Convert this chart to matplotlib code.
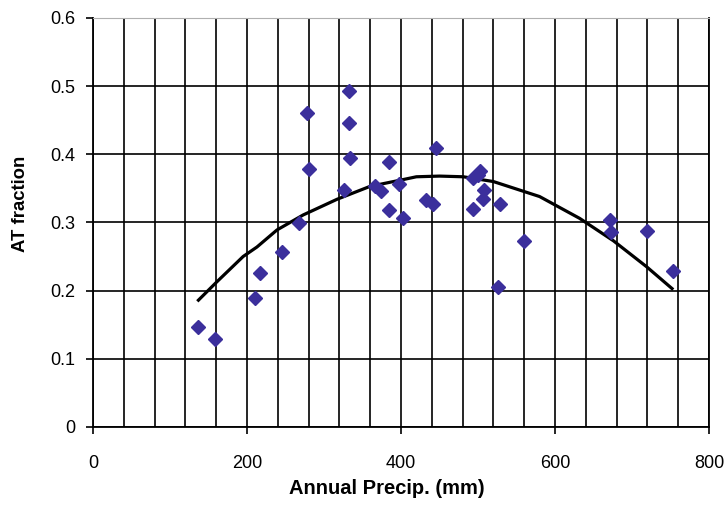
import numpy as np
import matplotlib
matplotlib.use("Agg")
import matplotlib.pyplot as plt
from matplotlib.ticker import MultipleLocator

plt.rcParams['font.family'] = ['Liberation Sans', 'DejaVu Sans']

# puntos medidos: precipitacion anual (mm) y fraccion AT
precip = [137, 158, 210, 217, 246, 268, 278, 280, 326, 332, 332, 334,
          366, 374, 384, 384, 398, 402, 433, 441, 446, 493, 493, 500,
          503, 506, 508, 526, 529, 560, 672, 673, 719, 753]
at_frac = [0.147, 0.129, 0.189, 0.226, 0.256, 0.299, 0.461, 0.379, 0.348,
           0.493, 0.446, 0.394, 0.353, 0.346, 0.388, 0.318, 0.356, 0.306,
           0.333, 0.327, 0.409, 0.365, 0.320, 0.370, 0.376, 0.334, 0.348,
           0.206, 0.327, 0.273, 0.304, 0.286, 0.288, 0.229]

# linea de tendencia
trend_x = [137, 161, 195, 213, 239, 273, 317, 360, 399, 420, 450, 481,
           520, 580, 632, 676, 719, 752]
trend_y = [0.186, 0.213, 0.250, 0.264, 0.289, 0.311, 0.334, 0.353, 0.362,
           0.367, 0.368, 0.367, 0.360, 0.338, 0.306, 0.273, 0.235, 0.203]

yticks = [0, 0.1, 0.2, 0.3, 0.4, 0.5, 0.6]
ytick_labels = ['0', '0.1', '0.2', '0.3', '0.4', '0.5', '0.6']

fig = plt.figure(figsize=(7.26, 5.05), dpi=100)
ax = fig.add_axes([0.128, 0.1545, 0.8486, 0.81])

ax.plot(trend_x, trend_y, color='black', lw=2.3, zorder=3)
ax.plot(precip, at_frac, 'D', color='#3b2f9c', markersize=7.5, zorder=4)

ax.set_xlim(0, 800)
ax.set_ylim(0, 0.6)
ax.xaxis.set_major_locator(MultipleLocator(200))
ax.xaxis.set_minor_locator(MultipleLocator(40))
ax.set_yticks(yticks)
ax.set_yticklabels(ytick_labels)

# rejilla negra estilo Excel
ax.grid(True, which='both', color='black', lw=1.2)
ax.set_axisbelow(True)
ax.tick_params(which='major', length=5, width=1.2, labelsize=13, color='black')
ax.tick_params(axis='x', which='major', pad=15)
ax.tick_params(axis='y', which='major', pad=7.5)
ax.tick_params(which='minor', length=0)
for s in ['left', 'bottom', 'right']:
    ax.spines[s].set_linewidth(1.3)
ax.spines['top'].set_color('#b0b0b0')

ax.set_xlabel('Annual Precip. (mm)', fontsize=14.5, fontweight='bold')
ax.xaxis.set_label_coords(0.477, -0.128)
ax.set_ylabel('AT fraction', fontsize=13.3, fontweight='bold')
ax.yaxis.set_label_coords(-0.104, 0.545)

fig.savefig('out.png', dpi=100)
